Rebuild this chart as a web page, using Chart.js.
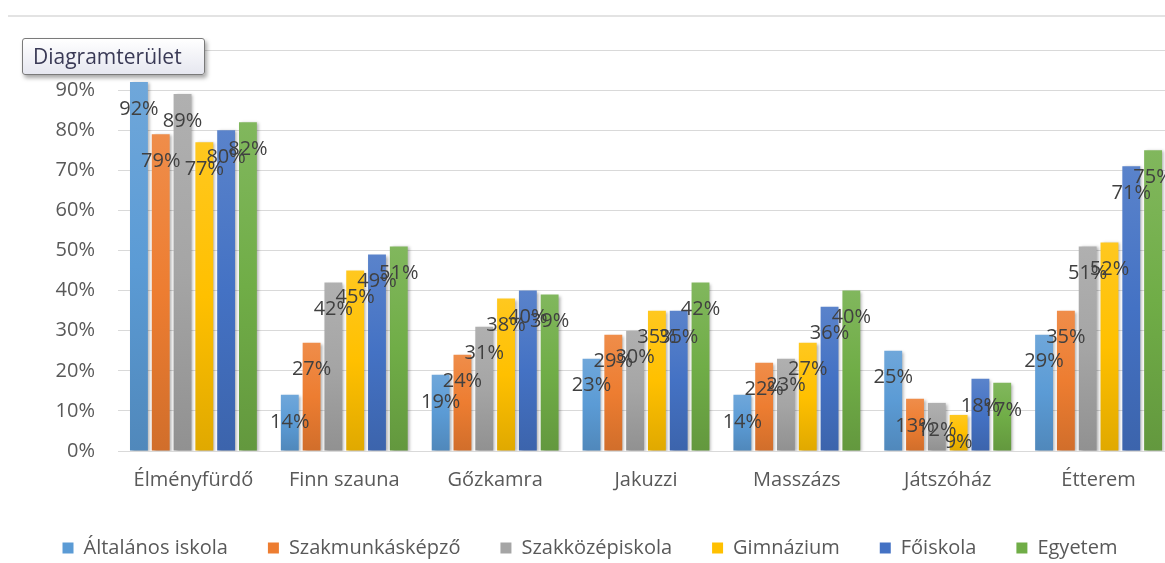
<!DOCTYPE html>
<html lang="hu">
<head>
<meta charset="utf-8">
<title>Szolgáltatások iskolai végzettség szerint</title>
<script src="https://cdn.jsdelivr.net/npm/chart.js@4/dist/chart.umd.min.js"></script>
<style>
    html, body {
        margin: 0;
        padding: 0;
        background: #ffffff;
        overflow: hidden;
    }
    #wrap {
        position: relative;
        width: 1165px;
        height: 563px;
        overflow: hidden;
    }
    #box {
        position: absolute;
        left: 0;
        top: 0;
        width: 1180px;
        height: 568px;
    }
    #topLine {
        position: absolute;
        left: 8px;
        top: 15px;
        width: 1170px;
        height: 0;
        border-top: 2px solid #e3e3e3;
    }
    #tip {
        position: absolute;
        left: 22px;
        top: 38px;
        width: 171px;
        height: 35px;
        border: 1px solid #7a7a7a;
        border-radius: 3px;
        background: linear-gradient(#ffffff, #e6e7f0);
        box-shadow: 2px 3px 4px rgba(0, 0, 0, 0.35);
        font-family: "Open Sans", sans-serif;
        font-size: 21px;
        line-height: 35px;
        color: #3a3a56;
        padding-left: 10px;
        box-sizing: content-box;
    }
</style>
</head>
<body>
<div id="wrap">
    <div id="topLine"></div>
    <div id="box"><canvas id="barChart" width="1180" height="568"></canvas></div>
    <div id="tip">Diagramterület</div>
</div>

<script>
// Categories on the x axis
const categories = ["Élményfürdő", "Finn szauna", "Gőzkamra", "Jakuzzi", "Masszázs", "Játszóház", "Étterem"];

// Series names (legend)
const seriesNames = ["Általános iskola", "Szakmunkásképző", "Szakközépiskola", "Gimnázium", "Főiskola", "Egyetem"];

// Values in percent, one array per series
const altalanos = [92, 14, 19, 23, 14, 25, 29];
const szakmunkas = [79, 27, 24, 29, 22, 13, 35];
const szakkozep = [89, 42, 31, 30, 23, 12, 51];
const gimnazium = [77, 45, 38, 35, 27, 9, 52];
const foiskola = [80, 49, 40, 35, 36, 18, 71];
const egyetem = [82, 51, 39, 42, 40, 17, 75];

// Y axis ticks: 0% .. 100%
const tickValues = [0, 10, 20, 30, 40, 50, 60, 70, 80, 90, 100];

// Office-like colours
const colors = ["#5B9BD5", "#ED7D31", "#A5A5A5", "#FFC000", "#4472C4", "#70AD47"];

const FONT = "'Open Sans', sans-serif";
const FONT_SIZE = 20;

// mix a hex colour with white (amt > 0) or black (amt < 0)
function shade(hex, amt) {
    const n = parseInt(hex.slice(1), 16);
    let r = (n >> 16) & 255, g = (n >> 8) & 255, b = n & 255;
    const t = amt < 0 ? 0 : 255;
    const p = Math.abs(amt);
    r = Math.round(r + (t - r) * p);
    g = Math.round(g + (t - g) * p);
    b = Math.round(b + (t - b) * p);
    return "rgb(" + r + "," + g + "," + b + ")";
}

// Gives every bar its own top-to-bottom gradient plus a small shadow, like Excel
const barLook = {
    id: "barLook",
    beforeDatasetsDraw(chart) {
        const ctx = chart.ctx;
        chart.data.datasets.forEach((ds, i) => {
            const meta = chart.getDatasetMeta(i);
            meta.data.forEach(bar => {
                const g = ctx.createLinearGradient(0, bar.y, 0, bar.base);
                g.addColorStop(0, shade(colors[i], 0.12));
                g.addColorStop(0.5, colors[i]);
                g.addColorStop(1, shade(colors[i], -0.12));
                bar.options = Object.assign({}, bar.options, { backgroundColor: g });
            });
        });
        ctx.save();
        ctx.shadowColor = "rgba(0,0,0,0.3)";
        ctx.shadowBlur = 3;
        ctx.shadowOffsetX = 2;
        ctx.shadowOffsetY = 1;
    },
    afterDatasetsDraw(chart) {
        chart.ctx.restore();
    }
};

// Percent labels a little below the top of every bar
const valueLabels = {
    id: "valueLabels",
    afterDatasetsDraw(chart) {
        const ctx = chart.ctx;
        ctx.save();
        ctx.font = FONT_SIZE + "px " + FONT;
        ctx.fillStyle = "#404040";
        ctx.textAlign = "center";
        ctx.textBaseline = "middle";
        chart.data.datasets.forEach((ds, i) => {
            chart.getDatasetMeta(i).data.forEach((bar, j) => {
                ctx.fillText(ds.data[j] + "%", bar.x, bar.y + 27);
            });
        });
        ctx.restore();
    }
};

const seriesValues = [altalanos, szakmunkas, szakkozep, gimnazium, foiskola, egyetem];

const datasets = seriesValues.map((vals, i) => ({
    label: seriesNames[i],
    data: vals,
    backgroundColor: colors[i],
    borderWidth: 0,
    categoryPercentage: 0.867,
    barPercentage: 0.82
}));

const canvasContext = document.getElementById("barChart").getContext("2d");

new Chart(canvasContext, {
    type: "bar",
    data: {
        labels: categories,
        datasets: datasets
    },
    options: {
        responsive: false,
        animation: false,
        layout: {
            padding: { left: 6, right: 6, top: 50, bottom: 0 }
        },
        plugins: {
            legend: {
                position: "bottom",
                labels: {
                    boxWidth: 11,
                    boxHeight: 11,
                    padding: 40,
                    color: "#595959",
                    font: { family: FONT, size: FONT_SIZE }
                }
            },
            tooltip: { enabled: false }
        },
        scales: {
            x: {
                grid: { display: false, drawTicks: false },
                border: { color: "#d9d9d9", width: 1 },
                ticks: {
                    color: "#595959",
                    font: { family: FONT, size: FONT_SIZE },
                    padding: 17
                },
                afterFit(scale) {
                    scale.height = 47;
                }
            },
            y: {
                min: 0,
                max: 100,
                afterBuildTicks(scale) {
                    scale.ticks = tickValues.map(v => ({ value: v }));
                },
                grid: { color: "#d9d9d9", drawTicks: false },
                border: { display: false },
                ticks: {
                    color: "#595959",
                    font: { family: FONT, size: FONT_SIZE },
                    padding: 23,
                    callback: v => v + "%"
                },
                afterFit(scale) {
                    scale.width = 112;
                }
            }
        }
    },
    plugins: [barLook, valueLabels]
});
</script>
</body>
</html>
